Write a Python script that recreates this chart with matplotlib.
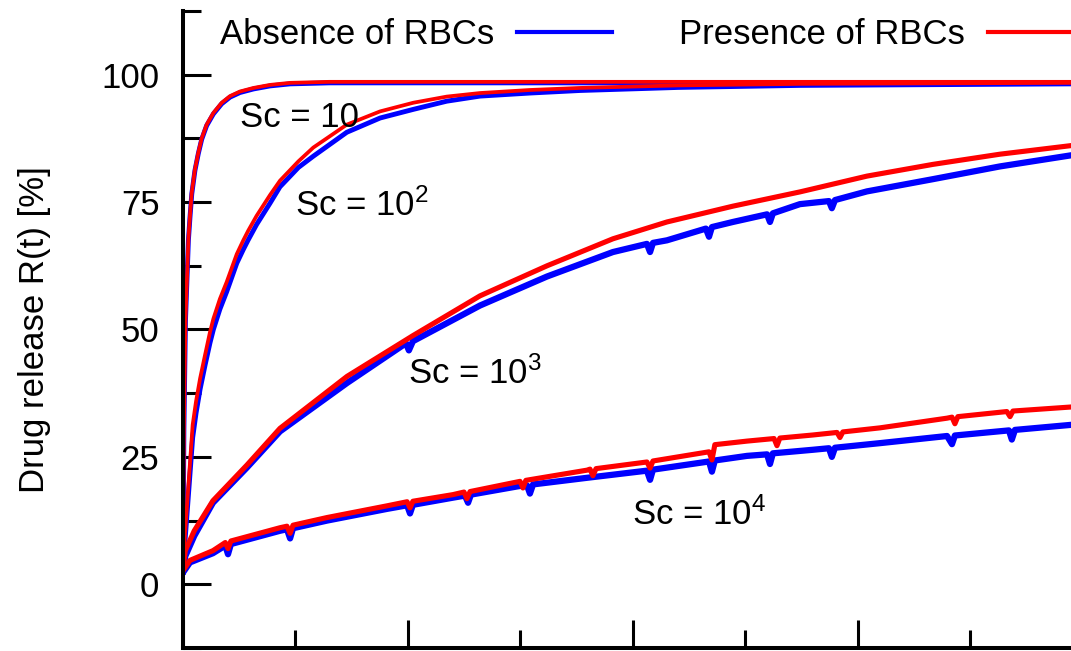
import matplotlib
matplotlib.use("Agg")
import matplotlib.pyplot as plt
from matplotlib.ticker import MultipleLocator

# font setup (Helvetica-like look)
plt.rcParams['font.family'] = ['Liberation Sans', 'DejaVu Sans']
plt.rcParams['mathtext.fontset'] = 'custom'
plt.rcParams['mathtext.rm'] = 'Liberation Sans'
plt.rcParams['mathtext.it'] = 'Liberation Sans:italic'

# --- data (time in axis units, release in %) ---
sc10_t = [0.0, 0.004, 0.011, 0.024, 0.031, 0.039, 0.053, 0.068, 0.083, 0.105, 0.135,
          0.172, 0.209, 0.253, 0.313, 0.387, 0.476, 0.65, 1.0, 2.0, 3.0, 3.95]
sc10_absent = [2.5, 30.4, 51.7, 67.5, 72.0, 76.6, 81.2, 84.5, 87.3, 90.0, 92.3,
               94.3, 95.6, 96.5, 97.2, 97.8, 98.2, 98.4, 98.4, 98.4, 98.4, 98.4]
sc10_present = [2.5, 30.7, 52.0, 67.8, 72.3, 76.9, 81.4, 84.7, 87.5, 90.2, 92.5,
                94.5, 95.8, 96.7, 97.4, 98.0, 98.4, 98.6, 98.6, 98.6, 98.6, 98.6]

sc100_t = [0.0, 0.009, 0.043, 0.058, 0.076, 0.098, 0.12, 0.135, 0.164, 0.194, 0.239, 0.268,
           0.29, 0.327, 0.387, 0.431, 0.513, 0.579, 0.728, 0.876, 1.024, 1.172, 1.32,
           1.542, 1.764, 2.2, 2.742, 3.95]
sc100_absent = [2.5, 8.5, 28.8, 33.6, 38.3, 43.0, 47.4, 50.0, 54.0, 57.4, 63.0, 65.7,
                67.6, 70.6, 74.8, 78.0, 81.8, 84.0, 88.7, 91.5, 93.2, 94.8, 95.8,
                96.4, 96.9, 97.5, 97.9, 98.2]
sc100_present = [2.5, 10.0, 31.3, 35.9, 40.4, 45.0, 49.5, 52.1, 56.0, 59.3, 64.8, 67.5,
                 69.4, 72.3, 76.4, 79.2, 83.0, 85.7, 90.2, 92.8, 94.5, 95.7, 96.4,
                 97.0, 97.4, 97.9, 98.2, 98.4]

sc1000_absent_t = [0.0, 0.01, 0.05, 0.133, 0.284, 0.431, 0.729, 0.991, 1.004, 1.022, 1.32,
                   1.618, 1.911, 2.062, 2.076, 2.089, 2.151, 2.324, 2.338, 2.351, 2.444,
                   2.596, 2.609, 2.622, 2.742, 2.871, 2.884, 2.898, 3.04, 3.333, 3.631, 3.95]
sc1000_absent = [2.5, 5.5, 9.5, 16.0, 22.9, 30.0, 39.5, 47.3, 45.9, 47.7, 54.7,
                 60.4, 65.2, 66.8, 65.2, 67.0, 67.5, 69.8, 68.2, 70.1, 71.1,
                 72.6, 71.1, 72.8, 74.6, 75.2, 73.8, 75.4, 77.1, 79.5, 82.0, 84.2]
sc1000_present_t = [0.0, 0.01, 0.05, 0.133, 0.284, 0.431, 0.729, 1.022, 1.32, 1.618, 1.911,
                    2.151, 2.444, 2.742, 3.04, 3.333, 3.631, 3.95]
sc1000_present = [3.0, 6.6, 10.5, 16.4, 23.4, 30.6, 40.8, 48.8, 56.6, 62.5, 67.8,
                  71.1, 74.2, 77.0, 80.1, 82.4, 84.4, 86.1]

sc10000_absent_t = [0.0, 0.031, 0.133, 0.188, 0.2, 0.213, 0.431, 0.462, 0.476, 0.489, 0.64,
                    0.907, 0.996, 1.009, 1.022, 1.2, 1.253, 1.267, 1.28, 1.498, 1.529, 1.542,
                    1.556, 1.796, 2.062, 2.076, 2.089, 2.338, 2.351, 2.364, 2.507, 2.596, 2.609,
                    2.622, 2.8, 2.871, 2.884, 2.898, 3.098, 3.396, 3.418, 3.431, 3.671, 3.684,
                    3.698, 3.95]
sc10000_absent = [2.3, 4.3, 6.1, 7.6, 5.9, 7.9, 10.5, 10.8, 9.0, 11.0, 12.5,
                  14.8, 15.5, 13.9, 15.6, 17.0, 17.4, 16.0, 17.6, 19.3, 19.4, 17.8,
                  19.6, 20.9, 22.3, 20.5, 22.5, 24.1, 22.1, 24.3, 25.2, 25.5, 23.6,
                  25.7, 26.4, 26.7, 25.0, 26.8, 27.7, 29.1, 27.5, 29.2, 30.2, 28.4,
                  30.3, 31.3]
sc10000_present_t = [0.0, 0.031, 0.133, 0.188, 0.2, 0.213, 0.431, 0.462, 0.476, 0.489, 0.64,
                     0.907, 0.996, 1.009, 1.022, 1.2, 1.249, 1.262, 1.276, 1.498, 1.511, 1.524,
                     1.796, 1.809, 1.822, 1.836, 2.062, 2.076, 2.089, 2.338, 2.351, 2.364, 2.507,
                     2.627, 2.64, 2.653, 2.8, 2.907, 2.92, 2.933, 3.098, 3.396, 3.418, 3.431,
                     3.444, 3.662, 3.676, 3.689, 3.95]
sc10000_present = [2.7, 4.7, 6.6, 8.2, 7.0, 8.5, 11.1, 11.4, 10.0, 11.6, 13.1,
                   15.4, 16.2, 15.0, 16.3, 17.6, 18.1, 16.8, 18.2, 20.2, 18.9, 20.4,
                   22.4, 22.6, 21.3, 22.7, 24.0, 22.8, 24.2, 26.0, 24.4, 27.4, 28.1,
                   28.6, 27.2, 28.7, 29.3, 29.8, 28.8, 29.9, 30.7, 32.6, 32.8, 31.5,
                   32.9, 33.9, 32.9, 34.0, 34.8]

curve_labels = ['Sc = 10', r'Sc = 10$^{2}$', r'Sc = 10$^{3}$', r'Sc = 10$^{4}$']
label_pos = [(0.253, 89.8), (0.498, 72.3), (1.0, 39.3), (1.996, 11.7)]

FS = 25
BLUE = '#0000ff'
RED = '#ff0000'

fig = plt.figure(figsize=(10.71, 6.51), dpi=100)
ax = fig.add_axes([183 / 1071, 3 / 651, 888 / 1071, 637 / 651])

series = [
    (sc10_t, sc10_absent, sc10_t, sc10_present, 3.5),
    (sc100_t, sc100_absent, sc100_t, sc100_present, 3.5),
    (sc1000_absent_t, sc1000_absent, sc1000_present_t, sc1000_present, 4.5),
    (sc10000_absent_t, sc10000_absent, sc10000_present_t, sc10000_present, 4.5),
]

# blue underneath, red on top
blue_lines = []
for ta, absent, tp, present, lw in series:
    l, = ax.plot(ta, absent, color=BLUE, lw=lw, solid_joinstyle='round')
    blue_lines.append(l)
red_lines = []
for ta, absent, tp, present, lw in series:
    l, = ax.plot(tp, present, color=RED, lw=lw - 0.8, solid_joinstyle='round')
    red_lines.append(l)

for txt, (x, y) in zip(curve_labels, label_pos):
    ax.text(x, y, txt, fontsize=FS, ha='left', va='baseline')

ax.set_xlim(0, 3.947)
ax.set_ylim(-12.5, 112.5)

ax.yaxis.set_major_locator(MultipleLocator(25))
ax.yaxis.set_minor_locator(MultipleLocator(12.5))
ax.xaxis.set_major_locator(MultipleLocator(1))
ax.xaxis.set_minor_locator(MultipleLocator(0.5))

for s in ['top', 'right']:
    ax.spines[s].set_visible(False)
for s in ['left', 'bottom']:
    ax.spines[s].set_linewidth(2.9)

ax.tick_params(which='both', direction='in', width=2.2, labelsize=FS, pad=17)
ax.tick_params(which='major', length=20)
ax.tick_params(which='minor', length=13)
ax.tick_params(axis='x', labelbottom=False)

ax.set_ylabel('Drug release R(t) [%]', fontsize=FS)
ax.yaxis.set_label_coords(-0.149, 0.5)

leg = ax.legend([blue_lines[0], red_lines[0]], ['Absence of RBCs', 'Presence of RBCs'],
                ncol=2, markerfirst=False, frameon=False, fontsize=FS,
                loc='upper left', bbox_to_anchor=(220 / 1071, 1 - 18 / 651),
                bbox_transform=fig.transFigure, borderpad=0, borderaxespad=0,
                handlelength=2.73, handletextpad=0.65, columnspacing=1.95)
for h in leg.get_lines():
    h.set_linewidth(3)

fig.savefig('out.png', dpi=100)
